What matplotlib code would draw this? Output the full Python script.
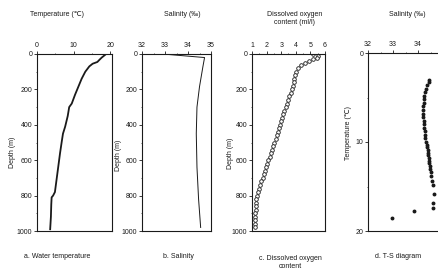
import numpy as np
import matplotlib
matplotlib.use('Agg')
import matplotlib.pyplot as plt
from matplotlib.ticker import MultipleLocator

plt.rcParams.update({
    'font.family': ['Liberation Sans', 'DejaVu Sans'],
    'font.size': 5,
    'axes.linewidth': 0.8,
})

# a. water temperature profile
depth_a = [0, 10, 20, 30, 45, 55, 70, 100, 140, 185, 230, 280, 300, 350, 410,
           450, 490, 560, 670, 780, 800, 810, 850, 920, 990]
temp_a = [18.9, 18.3, 17.7, 17.2, 16.5, 15.2, 14.3, 13.2, 12.2, 11.3, 10.4, 9.5,
          8.8, 8.4, 7.7, 7.1, 6.8, 6.3, 5.6, 4.9, 4.4, 4.0, 3.9, 3.8, 3.6]

# b. salinity profile
depth_b = [0, 20, 70, 185, 300, 450, 640, 820, 980]
sal_b = [32.9, 34.72, 34.65, 34.5, 34.39, 34.36, 34.39, 34.46, 34.55]

# c. dissolved oxygen profile
depth_c = [0, 10, 20, 30, 40, 50, 60, 80, 100, 120, 140, 160, 180, 200, 220, 240,
           260, 280, 300, 320, 340, 360, 380, 400, 420, 440, 460, 480, 500, 520,
           540, 560, 580, 600, 620, 640, 660, 680, 700, 720, 740, 760, 780, 800,
           820, 840, 860, 880, 900, 920, 940, 960, 980]
oxy_c = [5.2, 5.55, 5.45, 5.2, 4.9, 4.6, 4.35, 4.12, 4.0, 3.95, 3.9, 3.85, 3.78,
         3.72, 3.64, 3.56, 3.48, 3.4, 3.3, 3.22, 3.14, 3.07, 3.0, 2.92, 2.84, 2.76,
         2.69, 2.61, 2.53, 2.45, 2.37, 2.29, 2.2, 2.12, 2.04, 1.96, 1.88, 1.81,
         1.73, 1.65, 1.58, 1.5, 1.43, 1.36, 1.3, 1.27, 1.25, 1.24, 1.23, 1.22,
         1.21, 1.21, 1.2]

# d. T-S diagram
ts_temp = [3.0, 3.3, 3.6, 4.0, 4.4, 4.8, 5.2, 5.6, 6.0, 6.4, 6.8, 7.2, 7.6, 8.0,
           8.4, 8.8, 9.2, 9.6, 10.0, 10.3, 10.6, 10.9, 11.2, 11.5, 11.8, 12.1,
           12.4, 12.7, 13.0, 13.4, 13.8, 14.4, 14.8, 15.8, 16.9, 17.4, 17.8, 18.5]
ts_sal = [34.45, 34.42, 34.37, 34.32, 34.28, 34.25, 34.23, 34.22, 34.21, 34.2,
          34.2, 34.21, 34.22, 34.23, 34.25, 34.27, 34.29, 34.3, 34.32, 34.34,
          34.36, 34.38, 34.4, 34.41, 34.42, 34.43, 34.44, 34.46, 34.48, 34.5,
          34.53, 34.57, 34.6, 34.65, 34.6, 34.6, 33.84, 32.96]

W, H = 438, 274
fig = plt.figure(figsize=(W / 100, H / 100), dpi=100)
ink = '#1a1a1a'


def add_ax(l, r, t, b):
    ax = fig.add_axes([l / W, 1 - b / H, (r - l) / W, (b - t) / H])
    ax.xaxis.tick_top()
    ax.xaxis.set_label_position('top')
    ax.tick_params(which='major', length=2, width=0.6, pad=1.5, colors=ink, labelsize=5)
    ax.tick_params(which='minor', length=1, width=0.5, colors=ink)
    for s in ax.spines.values():
        s.set_color(ink)
    return ax


def ftext(x, y, s, **kw):
    fig.text(x / W, 1 - y / H, s, ha='center', va='center', color=ink, fontsize=5, **kw)


ax = add_ax(37, 112, 54, 231)
ax.plot(temp_a, depth_a, color=ink, lw=1.3)
ax.set_xlim(0, 20.5)
ax.set_ylim(1000, 0)
ax.set_xticks([0, 10, 20])
ax.xaxis.set_minor_locator(MultipleLocator(5))
ax.set_yticks(range(0, 1001, 200))
ax.yaxis.set_minor_locator(MultipleLocator(100))

ax = add_ax(142, 211, 54, 231)
ax.plot(sal_b, depth_b, color=ink, lw=0.7)
ax.set_xlim(32, 35)
ax.set_ylim(1000, 0)
ax.set_xticks([32, 33, 34, 35])
ax.xaxis.set_minor_locator(MultipleLocator(0.5))
ax.set_yticks(range(0, 1001, 200))
ax.yaxis.set_minor_locator(MultipleLocator(100))

ax = add_ax(252, 325, 54, 231)
ax.plot(oxy_c, depth_c, ls='none', marker='o', ms=2.6, mfc='white', mec=ink, mew=0.6)
ax.set_xlim(1, 6)
ax.set_ylim(1000, 0)
ax.set_xticks([1, 2, 3, 4, 5, 6])
ax.xaxis.set_minor_locator(MultipleLocator(0.5))
ax.set_yticks(range(0, 1001, 200))
ax.yaxis.set_minor_locator(MultipleLocator(100))

# panel d runs past the right edge of the page, as in the original
ax = add_ax(368, 443, 53, 231)
ax.plot(ts_sal, ts_temp, ls='none', marker='o', ms=1.8, color=ink)
ax.set_xlim(32, 35)
ax.set_ylim(20, 0)
ax.set_xticks([32, 33, 34])
ax.xaxis.set_minor_locator(MultipleLocator(0.5))
ax.set_yticks([0, 10, 20])
ax.yaxis.set_minor_locator(MultipleLocator(5))

# titles above panels
ftext(57, 14, 'Temperature (℃)')
ftext(182, 14, 'Salinity (‰)')
ftext(295, 14, 'Dissolved oxygen')
ftext(295, 22, 'content (ml/l)')
ftext(407, 14, 'Salinity (‰)')

# axis labels
ftext(12, 152, 'Depth (m)', rotation=90)
ftext(119, 155, 'Depth (m)', rotation=90)
ftext(230, 153, 'Depth (m)', rotation=90)
ftext(349, 133, 'Temperature (℃)', rotation=90)

# captions
ftext(57, 257, 'a. Water temperature')
ftext(178, 257, 'b. Salinity')
ftext(290, 258, 'c. Dissolved oxygen')
ftext(290, 266, 'content')
ftext(398, 257, 'd. T-S diagram')

fig.savefig('out.png', dpi=100)
